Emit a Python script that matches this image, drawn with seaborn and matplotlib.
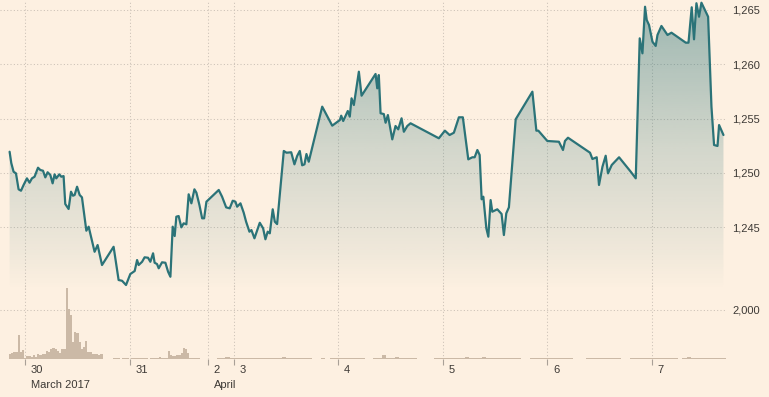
import numpy as np
import matplotlib
matplotlib.use("Agg")
import matplotlib.pyplot as plt
import seaborn as sns
from matplotlib.colors import LinearSegmentedColormap, to_rgb

# x is the trading-day position (0 = 30 March, gaps squeezed like the source chart)
price_day = [
    -0.150, -0.134, -0.112, -0.089, -0.064, -0.041, -0.016, 0.016, 0.041, 0.064,
    0.089, 0.122, 0.144, 0.170, 0.192, 0.214, 0.240, 0.262, 0.281, 0.297,
    0.326, 0.345, 0.367, 0.383, 0.415, 0.438, 0.457, 0.473, 0.496, 0.521,
    0.543, 0.585, 0.607, 0.633, 0.664, 0.693, 0.735, 0.846, 0.894, 0.927,
    0.965, 1.006, 1.048, 1.071, 1.086, 1.119, 1.143, 1.176, 1.198, 1.224,
    1.239, 1.262, 1.278, 1.310, 1.342, 1.368, 1.390, 1.412, 1.431, 1.447,
    1.469, 1.495, 1.517, 1.543, 1.565, 1.591, 1.620, 1.639, 1.668, 1.694,
    1.713, 1.735, 1.853, 1.885, 1.924, 1.958, 1.987, 2.013, 2.029, 2.061,
    2.092, 2.115, 2.147, 2.166, 2.195, 2.246, 2.278, 2.300, 2.322, 2.342,
    2.370, 2.390, 2.412, 2.476, 2.502, 2.547, 2.578, 2.604, 2.629, 2.652,
    2.674, 2.693, 2.715, 2.844, 2.940, 3.013, 3.026, 3.045, 3.089, 3.108,
    3.125, 3.147, 3.195, 3.221, 3.355, 3.371, 3.386, 3.403, 3.434, 3.451,
    3.473, 3.515, 3.546, 3.572, 3.604, 3.626, 3.659, 3.690, 3.961, 4.019,
    4.064, 4.105, 4.153, 4.191, 4.243, 4.282, 4.304, 4.330, 4.352, 4.371,
    4.387, 4.416, 4.435, 4.457, 4.473, 4.521, 4.562, 4.584, 4.607, 4.632,
    4.697, 4.857, 4.895, 4.914, 5.000, 5.111, 5.150, 5.169, 5.198, 5.409,
    5.432, 5.473, 5.495, 5.528, 5.559, 5.581, 5.617, 5.687, 5.799, 5.847,
    5.885, 5.911, 5.936, 5.952, 5.974, 6.007, 6.038, 6.055, 6.093, 6.151,
    6.189, 6.326, 6.352, 6.383, 6.405, 6.428, 6.453, 6.476, 6.540, 6.572,
    6.597, 6.630, 6.645, 6.687,
]
price = [
    1251.95, 1250.91, 1250.11, 1249.96, 1248.49, 1248.36, 1248.89, 1249.50, 1249.10, 1249.50,
    1249.65, 1250.48, 1250.27, 1250.20, 1249.59, 1250.06, 1249.81, 1249.04, 1249.87, 1249.50,
    1249.87, 1249.65, 1249.71, 1247.14, 1246.68, 1248.27, 1247.90, 1247.97, 1248.73, 1247.97,
    1247.75, 1244.68, 1245.05, 1243.98, 1242.74, 1243.36, 1241.52, 1243.20, 1240.14, 1240.07,
    1239.68, 1240.69, 1240.97, 1241.98, 1241.52, 1241.82, 1242.23, 1242.19, 1241.82, 1242.60,
    1241.73, 1241.61, 1241.22, 1241.77, 1241.73, 1240.90, 1240.44, 1245.05, 1244.19, 1245.97,
    1246.03, 1244.99, 1245.36, 1245.27, 1248.03, 1247.20, 1248.49, 1248.18, 1247.04, 1245.82,
    1245.82, 1247.35, 1248.43, 1247.81, 1246.83, 1246.74, 1247.44, 1247.35, 1246.89, 1247.20,
    1246.34, 1245.51, 1244.59, 1244.74, 1243.98, 1245.41, 1244.90, 1243.89, 1244.59, 1244.44,
    1246.65, 1245.51, 1245.29, 1252.02, 1251.86, 1251.90, 1250.79, 1251.56, 1252.02, 1250.70,
    1250.79, 1251.74, 1251.03, 1256.10, 1254.35, 1254.87, 1255.27, 1254.78, 1255.70, 1255.18,
    1256.87, 1256.25, 1259.32, 1257.11, 1259.11, 1257.79, 1259.01, 1255.49, 1255.42, 1254.62,
    1255.33, 1253.09, 1254.32, 1254.01, 1255.03, 1253.79, 1254.32, 1254.57, 1253.19, 1253.89,
    1253.49, 1253.70, 1255.12, 1255.12, 1251.25, 1251.44, 1251.44, 1252.11, 1251.65, 1247.57,
    1247.81, 1244.90, 1244.13, 1247.50, 1246.43, 1246.65, 1246.22, 1244.28, 1246.28, 1246.83,
    1254.94, 1257.48, 1253.89, 1253.89, 1252.94, 1252.87, 1252.11, 1252.94, 1253.24, 1251.86,
    1251.28, 1251.44, 1248.89, 1250.57, 1251.58, 1249.96, 1250.73, 1251.44, 1250.11, 1249.50,
    1262.39, 1261.01, 1265.30, 1264.08, 1263.62, 1262.08, 1261.69, 1262.70, 1263.53, 1262.70,
    1262.91, 1261.99, 1261.99, 1265.25, 1262.30, 1265.62, 1264.38, 1265.67, 1264.38, 1256.10,
    1252.57, 1252.48, 1254.41, 1253.49,
]

# volume: half-hour bars for 29-31 March, hourly bars for 2-7 April
vol_a_start = -0.156
vol_a = [205, 245, 285, 285, 980, 285, 365, 40, 120, 120, 100, 165, 80, 185, 165,
         205, 205, 325, 285, 410, 450, 410, 325, 245, 410, 410, 2885, 2040, 1795, 695,
         1100, 1060, 695, 410, 490, 735, 285, 285, 205, 205, 205, 165, 205]
vol_b_start = 0.843
vol_b = [40, 40, 40, 0, 40, 40, 40, 0, 40, 40, 40, 60, 40, 40, 40, 40, 0, 40, 40, 40,
         40, 80, 40, 40, 40, 325, 165, 120, 120, 165, 165, 245, 450, 410, 245, 40, 40,
         40, 40, 40, 0, 0, 0]
vol_c_start = 1.75
vol_c = [0, 0, 40, 40, 80, 40, 40, 40, 40, 40, 40, 40, 40, 40, 40, 40, 40, 80, 40, 40, 40, 40, 40, 40,
         0, 0, 40, 0, 40, 40, 40, 40, 40, 40, 40, 40, 0, 0, 40, 40, 165, 40, 40, 80, 40, 40, 40, 40,
         0, 0, 0, 0, 40, 40, 40, 40, 40, 40, 60, 80, 40, 40, 40, 80, 40, 40, 40, 40, 40, 40, 40, 40,
         0, 0, 40, 40, 40, 40, 40, 40, 40, 40, 40, 40, 0, 0, 0, 40, 40, 40, 40, 40, 40, 40, 40, 0,
         0, 40, 40, 40, 40, 40, 40, 40, 40, 40, 40, 40, 0, 40, 80, 40, 40, 40, 40, 40, 40, 40, 40]

day_ticks = [0, 1, 1.75, 2, 3, 4, 5, 6]
day_labels = ["30", "31", "2", "3", "4", "5", "6", "7"]
month_ticks = [0, 1.75]
month_labels = ["March 2017", "April"]
price_ticks = [1245, 1250, 1255, 1260, 1265]
vol_ticks = [2000]

BG = "#fdf0e1"
LINE = "#2b7378"
GRID = "#cbc1b6"
TEXT = "#3d3935"
BAR = "#cbb9a6"
XLIM = (-0.242, 6.721)
PLIM = (1239.22, 1265.92)
DOTS = (0, (1, 2.2))

sns.set_theme(style="white")
plt.rcParams["font.family"] = ["Liberation Sans", "DejaVu Sans"]

fig = plt.figure(figsize=(7.69, 3.97), dpi=100, facecolor=BG)
axv = fig.add_axes([0, 0.0957, 0.9454, 0.1864])
axp = fig.add_axes([0, 0.2695, 0.9454, 0.7305])
axv.set_facecolor(BG)
axp.set_facecolor("none")

# volume panel
for start, vals, w in [(vol_a_start, vol_a, 1 / 48), (vol_b_start, vol_b, 1 / 48),
                       (vol_c_start, vol_c, 1 / 24)]:
    xs = start + np.arange(len(vals)) * w
    axv.bar(xs, vals, width=w, align="edge", color=BAR, linewidth=0, zorder=2)
axv.set_xlim(*XLIM)
axv.set_ylim(0, 3020)
axv.set_yticks(vol_ticks)
axv.set_yticklabels([f"{v:,}" for v in vol_ticks])
axv.yaxis.tick_right()
axv.grid(axis="y", color=GRID, linestyle=DOTS, linewidth=0.75)
axv.set_xticks(day_ticks)
axv.set_xticklabels([])
axv.tick_params(axis="x", bottom=True, length=4, width=0.8, color="#a9a097", direction="out")
axv.tick_params(axis="y", length=0, pad=4, labelsize=8, labelcolor=TEXT)
for d in day_ticks:
    axv.axvline(d, color=GRID, linestyle=DOTS, linewidth=0.75, zorder=1)
for d, lab in zip(day_ticks, day_labels):
    axv.annotate(lab, xy=(d, 0), xycoords=("data", "axes fraction"), xytext=(4, -8),
                 textcoords="offset points", ha="left", va="center", fontsize=8, color=TEXT)
for d, lab in zip(month_ticks, month_labels):
    axv.annotate(lab, xy=(d, 0), xycoords=("data", "axes fraction"), xytext=(4, -19),
                 textcoords="offset points", ha="left", va="center", fontsize=8, color=TEXT)
for s in axv.spines.values():
    s.set_visible(False)

# price panel
axp.set_xlim(*XLIM)
axp.set_ylim(*PLIM)
fill = axp.fill_between(price_day, price, PLIM[0], color="none", linewidth=0)
teal = to_rgb(LINE)
cmap = LinearSegmentedColormap.from_list(
    "fade", [(0.0, (*teal, 0.0)), (0.12, (*teal, 0.06)), (0.483, (*teal, 0.2)),
             (1.0, (*teal, 0.47))])
grad = np.linspace(0, 1, 256).reshape(-1, 1)
img = axp.imshow(grad, extent=[XLIM[0], XLIM[1], PLIM[0], PLIM[1]], origin="lower",
                 aspect="auto", cmap=cmap, zorder=1, interpolation="bilinear")
img.set_clip_path(fill.get_paths()[0], transform=axp.transData)
sns.lineplot(x=price_day, y=price, ax=axp, color=LINE, linewidth=1.6, sort=False,
             estimator=None, zorder=3)
axp.set_xlim(*XLIM)
axp.set_ylim(*PLIM)
axp.set_yticks(price_ticks)
axp.set_yticklabels([f"{v:,}" for v in price_ticks])
axp.yaxis.tick_right()
axp.tick_params(axis="y", length=0, pad=4, labelsize=8, labelcolor=TEXT)
axp.set_xticks([])
axp.grid(axis="y", color=GRID, linestyle=DOTS, linewidth=0.75, zorder=0)
for d in day_ticks:
    axp.axvline(d, color=GRID, linestyle=DOTS, linewidth=0.75, zorder=0.5)
axp.set_xlabel("")
axp.set_ylabel("")
for s in axp.spines.values():
    s.set_visible(False)

fig.savefig("out.png", dpi=100, facecolor=BG)
